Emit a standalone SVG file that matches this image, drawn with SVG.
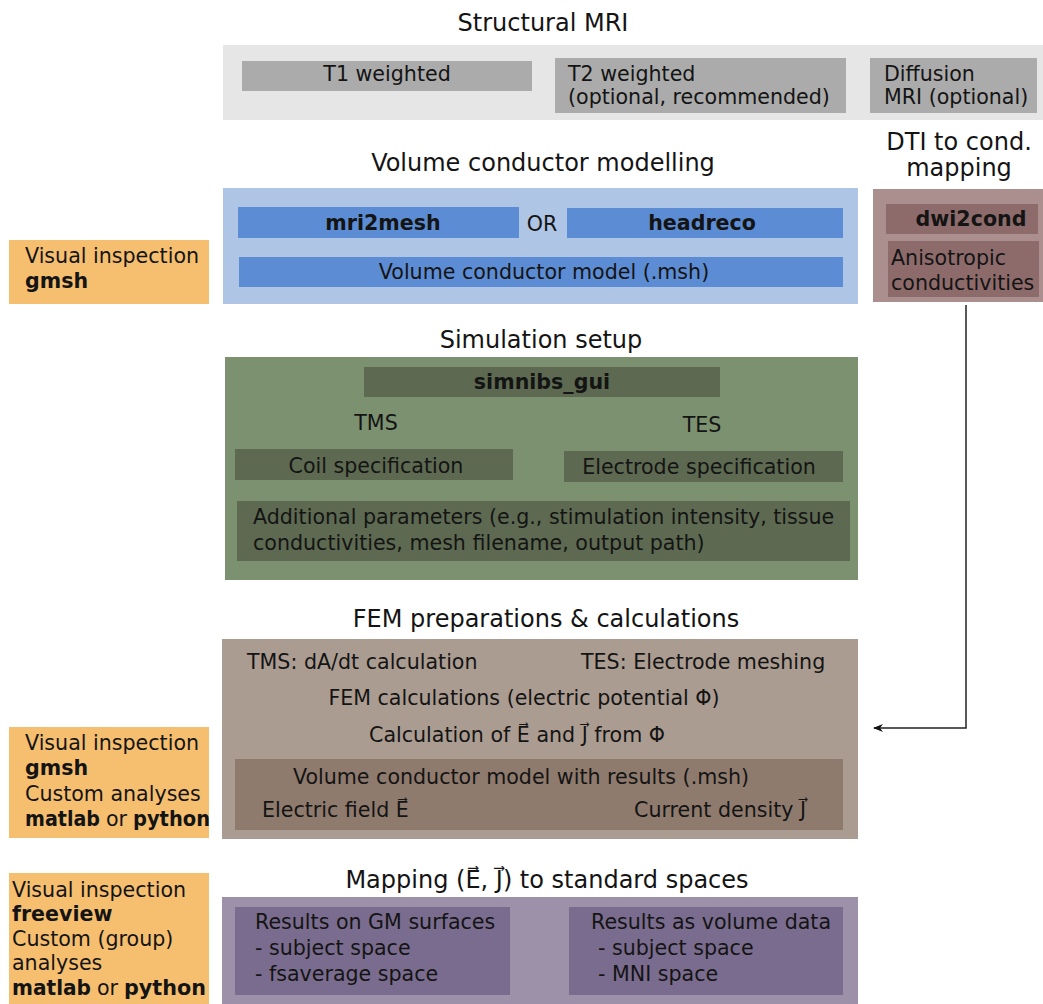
<svg xmlns="http://www.w3.org/2000/svg" width="1043" height="1004" viewBox="0 0 1043 1004">
<style>
text{font-family:"DejaVu Sans","Verdana",sans-serif;fill:#141414;font-size:20.6px}
.t{font-size:24px;text-anchor:middle}
.c{text-anchor:middle}
.b{font-weight:bold}
.gp{fill:#e6e6e6}.gi{fill:#ababab}
.bp{fill:#afc5e6}.bi{fill:#5c8cd3}
.rp{fill:#ab8f8f}.ri{fill:#8e6b6b}
.og{fill:#f6bf70}
.np{fill:#7b9170}.ni{fill:#5d6a51}
.fp{fill:#ab9c91}.fi{fill:#8f7b6e}
.pp{fill:#9c91a9}.pi{fill:#7a6c8e}
</style>
<defs>
<marker id="ah" markerWidth="10" markerHeight="8" refX="9" refY="4" orient="auto" markerUnits="userSpaceOnUse">
<path d="M0,0 L10,4 L0,8 L3,4 Z" fill="#111"/>
</marker>
</defs>
<rect width="1043" height="1004" fill="#fff"/>

<g id="structural-mri">
<text class="t" x="543" y="31">Structural MRI</text>
<rect class="gp" x="223" y="45" width="820" height="75"/>
<g id="t1"><rect class="gi" x="242" y="61" width="290" height="30"/><text class="c" x="387" y="81">T1 weighted</text></g>
<g id="t2"><rect class="gi" x="555" y="58" width="291" height="55"/><text x="568" y="81">T2 weighted</text><text x="568" y="104">(optional, recommended)</text></g>
<g id="diffusion"><rect class="gi" x="870" y="58" width="167" height="55"/><text x="884" y="81">Diffusion</text><text x="884" y="104">MRI (optional)</text></g>
</g>

<g id="volume-conductor">
<text class="t" x="543" y="171">Volume conductor modelling</text>
<rect class="bp" x="223" y="188" width="635" height="116"/>
<g id="mri2mesh"><rect class="bi" x="238" y="207" width="281" height="31"/><text class="c b" x="383" y="230">mri2mesh</text></g>
<text class="c" x="542" y="231">OR</text>
<g id="headreco"><rect class="bi" x="567" y="208" width="276" height="30"/><text class="c b" x="702" y="230">headreco</text></g>
<g id="vcm"><rect class="bi" x="239" y="257" width="604" height="30"/><text class="c" x="544" y="279">Volume conductor model (.msh)</text></g>
</g>

<g id="dti-mapping">
<text class="t" x="959" y="150">DTI to cond.</text>
<text class="t" x="959" y="176">mapping</text>
<rect class="rp" x="873" y="189" width="170" height="113"/>
<g id="dwi2cond"><rect class="ri" x="886" y="204" width="152" height="30"/><text class="c b" x="971" y="226">dwi2cond</text></g>
<g id="aniso"><rect class="ri" x="888" y="241" width="151" height="56"/><text x="891" y="265">Anisotropic</text><text x="891" y="290">conductivities</text></g>
</g>

<g id="inspect1">
<rect class="og" x="9" y="240" width="200" height="64"/>
<text x="25" y="263">Visual inspection</text>
<text class="b" x="25" y="288">gmsh</text>
</g>

<g id="simulation-setup">
<text class="t" x="541" y="348">Simulation setup</text>
<rect class="np" x="225" y="357" width="633" height="223"/>
<g id="simnibs"><rect class="ni" x="364" y="367" width="356" height="30"/><text class="c b" x="542" y="389">simnibs_gui</text></g>
<text class="c" x="376" y="430">TMS</text>
<text class="c" x="702" y="432">TES</text>
<g id="coil"><rect class="ni" x="235" y="449" width="278" height="31"/><text class="c" x="376" y="473">Coil specification</text></g>
<g id="electrode"><rect class="ni" x="564" y="451" width="279" height="31"/><text class="c" x="699" y="474">Electrode specification</text></g>
<g id="additional"><rect class="ni" x="237" y="501" width="613" height="60"/><text x="253" y="524">Additional parameters (e.g., stimulation intensity, tissue</text><text x="253" y="550">conductivities, mesh filename, output path)</text></g>
</g>

<g id="fem">
<text class="t" x="546" y="627">FEM preparations &amp; calculations</text>
<rect class="fp" x="222" y="639" width="636" height="200"/>
<text x="247" y="669">TMS: dA/dt calculation</text>
<text x="581" y="669">TES: Electrode meshing</text>
<text class="c" x="524" y="705">FEM calculations (electric potential Φ)</text>
<text class="c" x="517" y="742">Calculation of E⃗ and J⃗ from Φ</text>
<g id="results"><rect class="fi" x="235" y="759" width="608" height="71"/>
<text class="c" x="521" y="784">Volume conductor model with results (.msh)</text>
<text x="262" y="817">Electric field E⃗</text>
<text x="634" y="817">Current density J⃗</text></g>
</g>

<g id="inspect2">
<rect class="og" x="9" y="727" width="200" height="111"/>
<text x="25" y="750">Visual inspection</text>
<text class="b" x="25" y="775">gmsh</text>
<text x="25" y="801">Custom analyses</text>
<text class="b" x="25" y="826" textLength="75" lengthAdjust="spacingAndGlyphs">matlab</text>
<text x="106" y="826">or</text>
<text class="b" x="133" y="826" textLength="77" lengthAdjust="spacingAndGlyphs">python</text>
</g>

<g id="mapping">
<text class="t" x="547" y="888">Mapping (E⃗, J⃗) to standard spaces</text>
<rect class="pp" x="222" y="897" width="636" height="107"/>
<g id="gm"><rect class="pi" x="235" y="907" width="275" height="88"/>
<text x="255" y="929">Results on GM surfaces</text>
<text x="255" y="955">- subject space</text>
<text x="255" y="981">- fsaverage space</text></g>
<g id="vol"><rect class="pi" x="569" y="907" width="274" height="88"/>
<text x="591" y="929">Results as volume data</text>
<text x="598" y="955">- subject space</text>
<text x="598" y="981">- MNI space</text></g>
</g>

<g id="inspect3">
<rect class="og" x="9" y="873" width="200" height="131"/>
<text x="12" y="897">Visual inspection</text>
<text class="b" x="12" y="921">freeview</text>
<text x="12" y="946">Custom (group)</text>
<text x="12" y="970">analyses</text>
<text class="b" x="12" y="995" textLength="79" lengthAdjust="spacingAndGlyphs">matlab</text>
<text x="97" y="995">or</text>
<text class="b" x="124" y="995" textLength="82" lengthAdjust="spacingAndGlyphs">python</text>
</g>

<g id="connectors">
<polyline points="966,305 966,728 874,728" fill="none" stroke="#222" stroke-width="1.5" marker-end="url(#ah)"/>
</g>
</svg>
